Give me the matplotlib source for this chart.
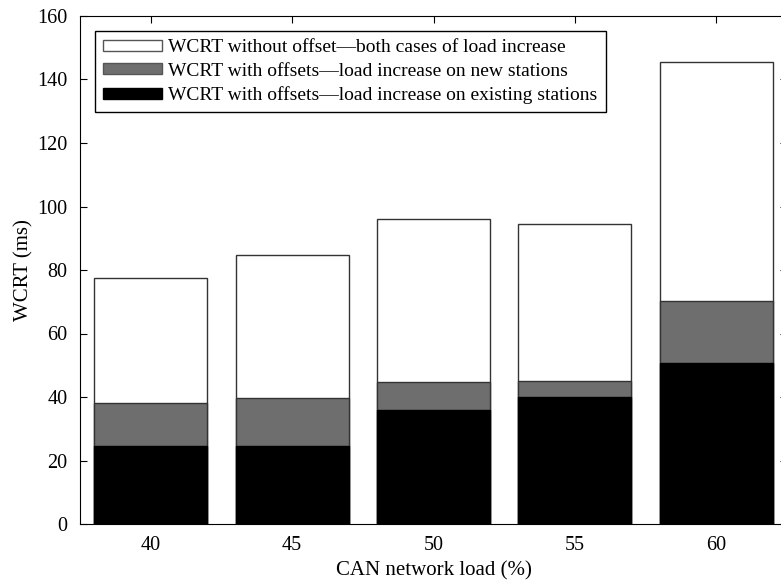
import numpy as np
import matplotlib.pyplot as plt
from matplotlib.patches import Patch

plt.rcParams['font.family'] = ['Liberation Serif', 'DejaVu Serif']

loads = ['40', '45', '50', '55', '60']
wcrt_no_offset = [77.6, 84.8, 96.0, 94.5, 145.6]
wcrt_new_stations = [38.2, 39.6, 44.7, 45.0, 70.3]
wcrt_existing = [24.6, 24.6, 35.9, 40.0, 50.8]

labels = ['WCRT without offset\u2014both cases of load increase',
          'WCRT with offsets\u2014load increase on new stations',
          'WCRT with offsets\u2014load increase on existing stations']

fig = plt.figure(figsize=(7.81, 5.81), dpi=100)
ax = fig.add_axes([80 / 781, 57 / 581, 707 / 781, 508 / 581])

x = np.arange(len(loads))
w = 0.8
ax.bar(x, wcrt_no_offset, w, color='white', edgecolor='#333333', linewidth=1)
ax.bar(x, wcrt_new_stations, w, color='#6e6e6e', edgecolor='#333333', linewidth=1)
ax.bar(x, wcrt_existing, w, color='black', edgecolor='black', linewidth=1)

ax.set_xlim(-0.5, 4.5)
ax.set_ylim(0, 160)
ax.set_xticks(x)
ax.set_xticklabels(loads)
ax.set_yticks(np.arange(0, 161, 20))
ax.tick_params(direction='in', top=True, right=True, labelsize=14.5, length=5, pad=9)
ax.set_xlabel('CAN network load (%)', fontsize=15, labelpad=4)
ax.set_ylabel('WCRT (ms)', fontsize=15, labelpad=3)

handles = [Patch(facecolor='white', edgecolor='#555555'),
           Patch(facecolor='#6e6e6e', edgecolor='#555555'),
           Patch(facecolor='black', edgecolor='black')]
leg = ax.legend(handles, labels, loc='upper left',
                bbox_to_anchor=(15 / 707, 1 - 15 / 508),
                fontsize=14, handlelength=3.0, handleheight=0.5, handletextpad=0.35,
                labelspacing=0.34, borderpad=0.42, borderaxespad=0,
                fancybox=False, framealpha=1, edgecolor='black')
leg.get_frame().set_linewidth(1)

fig.savefig('out.png', dpi=100)
